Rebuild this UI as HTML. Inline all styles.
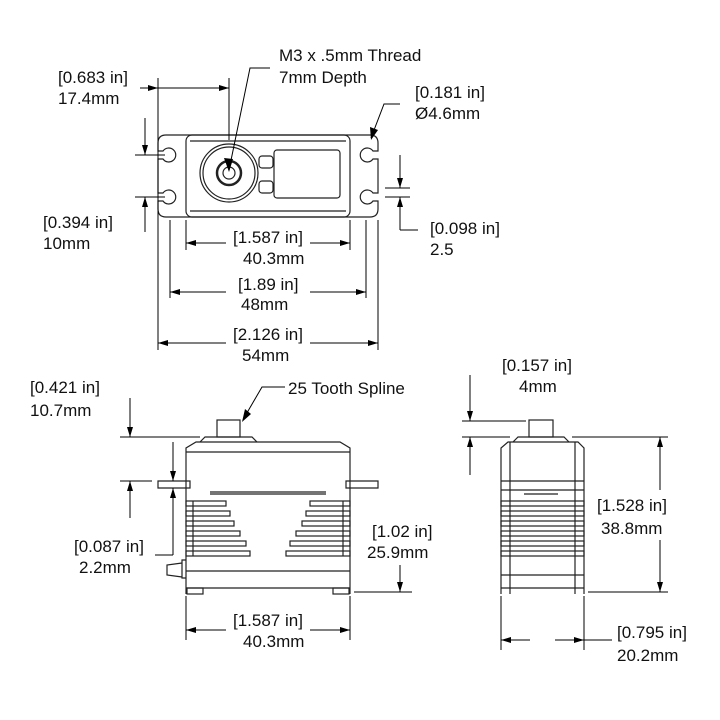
<!DOCTYPE html>
<html><head><style>body{margin:0;background:#fff}svg{display:block}text{font-family:"Liberation Sans",sans-serif;font-size:17px;fill:#111}</style></head><body>
<svg width="720" height="720" viewBox="0 0 720 720" xmlns="http://www.w3.org/2000/svg">
<defs><marker id="a" viewBox="0 0 10 6" refX="10" refY="3" markerWidth="10" markerHeight="6" orient="auto-start-reverse" markerUnits="userSpaceOnUse"><path d="M0,0L10,3L0,6z" fill="#000"/></marker></defs>
<g fill="none" stroke="#222" stroke-width="1.2">
<!-- top view -->
<path d="M166,135H370Q378,135 378,143V151H373A7,7 0 1 0 373,159H378V193H373A7,7 0 1 0 373,201H378V209Q378,217 370,217H166Q158,217 158,209V201H163A7,7 0 1 0 163,193H158V159H163A7,7 0 1 0 163,151H158V143Q158,135 166,135Z"/>
<rect x="186" y="135" width="164" height="82" rx="6"/>
<line x1="190" y1="141" x2="346" y2="141"/><line x1="190" y1="211" x2="346" y2="211"/>
<circle cx="229" cy="173" r="29"/><circle cx="229" cy="173" r="26"/>
<circle cx="229" cy="173" r="12" stroke-width="2.5"/><circle cx="229" cy="173" r="6"/>
<rect x="259" y="156" width="14" height="12" rx="3"/><rect x="259" y="181" width="14" height="12" rx="3"/>
<rect x="274" y="150" width="66" height="48" rx="3"/>
<!-- side view -->
<rect x="217" y="420" width="23" height="17"/>
<path d="M200,442L205,437H252L257,442"/>
<path d="M186,488V448L196,442H340L350,448V488"/>
<line x1="186" y1="452" x2="350" y2="452"/>
<path d="M158,481H190V488H158Z"/><path d="M346,481H378V488H346Z"/>
<line x1="186" y1="488" x2="186" y2="594"/><line x1="350" y1="488" x2="350" y2="594"/>
<line x1="210" y1="492" x2="326" y2="492"/><line x1="210" y1="494" x2="326" y2="494"/>
<g>
<rect x="186" y="501" width="40" height="5"/><rect x="186" y="511" width="44" height="5"/><rect x="186" y="521" width="48" height="5"/><rect x="186" y="531" width="54" height="5"/><rect x="186" y="541" width="60" height="5"/><rect x="186" y="551" width="64" height="5"/>
<rect x="310" y="501" width="40" height="5"/><rect x="306" y="511" width="44" height="5"/><rect x="302" y="521" width="48" height="5"/><rect x="296" y="531" width="54" height="5"/><rect x="290" y="541" width="60" height="5"/><rect x="286" y="551" width="64" height="5"/>
<line x1="193" y1="501" x2="193" y2="556"/><line x1="343" y1="501" x2="343" y2="556"/>
</g>
<line x1="186" y1="571" x2="350" y2="571"/><line x1="186" y1="588" x2="350" y2="588"/>
<rect x="187" y="588" width="16" height="6"/><rect x="333" y="588" width="16" height="6"/>
<path d="M186,560H182V578H186M182,563L167,565V575L182,577"/>
<!-- right view -->
<rect x="529" y="420" width="24" height="17"/>
<path d="M513,442L518,437H564L569,442"/>
<path d="M501,594V448L508,442H578L584,448V594"/>
<line x1="510" y1="442" x2="510" y2="594"/><line x1="575" y1="442" x2="575" y2="594"/>
<line x1="501" y1="481" x2="584" y2="481"/><line x1="501" y1="490" x2="584" y2="490"/>
<line x1="524" y1="494" x2="558" y2="494"/>
<g><rect x="501" y="501" width="83" height="5"/><rect x="501" y="511" width="83" height="5"/><rect x="501" y="521" width="83" height="5"/><rect x="501" y="531" width="83" height="5"/><rect x="501" y="541" width="83" height="5"/><rect x="501" y="551" width="83" height="5"/></g>
<line x1="501" y1="575" x2="584" y2="575"/><line x1="501" y1="588" x2="584" y2="588"/>
</g>
<g stroke="#000" stroke-width="1" fill="none">
<line x1="158" y1="78" x2="158" y2="350"/><line x1="229" y1="78" x2="229" y2="140"/>
<line x1="186" y1="220" x2="186" y2="250"/><line x1="350" y1="220" x2="350" y2="250"/>
<line x1="170" y1="220" x2="170" y2="298"/><line x1="366" y1="220" x2="366" y2="298"/>
<line x1="378" y1="220" x2="378" y2="350"/>
<line x1="140" y1="88" x2="158" y2="88" marker-end="url(#a)"/><line x1="229" y1="88" x2="158" y2="88"/><line x1="200" y1="88" x2="229" y2="88" marker-end="url(#a)"/>
<line x1="135" y1="155" x2="165" y2="155"/><line x1="135" y1="197" x2="165" y2="197"/>
<line x1="145" y1="118" x2="145" y2="155" marker-end="url(#a)"/><line x1="145" y1="232" x2="145" y2="197" marker-end="url(#a)"/>
<line x1="385" y1="188" x2="410" y2="188"/><line x1="385" y1="197" x2="410" y2="197"/>
<line x1="400" y1="155" x2="400" y2="188" marker-end="url(#a)"/><line x1="400" y1="230" x2="400" y2="197" marker-end="url(#a)"/><line x1="400" y1="230" x2="418" y2="230"/>
<line x1="226" y1="243" x2="186" y2="243" marker-end="url(#a)"/><line x1="310" y1="243" x2="350" y2="243" marker-end="url(#a)"/>
<line x1="226" y1="292" x2="170" y2="292" marker-end="url(#a)"/><line x1="310" y1="292" x2="366" y2="292" marker-end="url(#a)"/>
<line x1="226" y1="343" x2="158" y2="343" marker-end="url(#a)"/><line x1="310" y1="343" x2="378" y2="343" marker-end="url(#a)"/>
<polyline points="270,68 250,68 229,170" /><path d="M229,172l-5,-14l9,1z" fill="#000" stroke="none"/>
<polyline points="400,104 384,104 371,138"/><path d="M371,140l-1,-13l8,3z" fill="#000" stroke="none"/>
<line x1="120" y1="437" x2="200" y2="437"/>
<line x1="130" y1="398" x2="130" y2="437" marker-end="url(#a)"/>
<line x1="120" y1="481" x2="152" y2="481"/>
<line x1="130" y1="518" x2="130" y2="481" marker-end="url(#a)"/>
<line x1="173" y1="442" x2="173" y2="481" marker-end="url(#a)"/>
<line x1="173" y1="555" x2="173" y2="488" marker-end="url(#a)"/><line x1="155" y1="555" x2="173" y2="555"/>
<line x1="354" y1="592" x2="412" y2="592"/>
<line x1="400" y1="565" x2="400" y2="592" marker-end="url(#a)"/>
<polyline points="285,387 262,387 244,418"/><path d="M242,422l3,-13l6,5z" fill="#000" stroke="none"/>
<line x1="186" y1="596" x2="186" y2="640"/><line x1="350" y1="596" x2="350" y2="640"/>
<line x1="226" y1="630" x2="186" y2="630" marker-end="url(#a)"/><line x1="310" y1="630" x2="350" y2="630" marker-end="url(#a)"/>
<line x1="462" y1="421" x2="526" y2="421"/><line x1="462" y1="437" x2="510" y2="437"/><line x1="572" y1="437" x2="668" y2="437"/>
<line x1="470" y1="375" x2="470" y2="421" marker-end="url(#a)"/><line x1="470" y1="475" x2="470" y2="437" marker-end="url(#a)"/>
<line x1="588" y1="592" x2="668" y2="592"/>
<line x1="660" y1="490" x2="660" y2="437" marker-end="url(#a)"/><line x1="660" y1="540" x2="660" y2="592" marker-end="url(#a)"/>
<line x1="501" y1="596" x2="501" y2="650"/><line x1="584" y1="596" x2="584" y2="650"/>
<line x1="530" y1="640" x2="501" y2="640" marker-end="url(#a)"/><line x1="555" y1="640" x2="584" y2="640" marker-end="url(#a)"/><line x1="584" y1="640" x2="612" y2="640"/>
</g>
<text x="279" y="61">M3 x .5mm Thread</text><text x="279" y="83">7mm Depth</text>
<text x="58" y="83">[0.683 in]</text><text x="58" y="104">17.4mm</text>
<text x="415" y="98">[0.181 in]</text><text x="415" y="119">Ø4.6mm</text>
<text x="43" y="228">[0.394 in]</text><text x="43" y="249">10mm</text>
<text x="430" y="234">[0.098 in]</text><text x="430" y="255">2.5</text>
<text x="233" y="243">[1.587 in]</text><text x="243" y="264">40.3mm</text>
<text x="238" y="290">[1.89 in]</text><text x="241" y="310">48mm</text>
<text x="233" y="340">[2.126 in]</text><text x="242" y="361">54mm</text>
<text x="30" y="393">[0.421 in]</text><text x="30" y="416">10.7mm</text>
<text x="288" y="394">25 Tooth Spline</text>
<text x="74" y="552">[0.087 in]</text><text x="79" y="573">2.2mm</text>
<text x="372" y="537">[1.02 in]</text><text x="367" y="558">25.9mm</text>
<text x="233" y="626">[1.587 in]</text><text x="243" y="647">40.3mm</text>
<text x="502" y="371">[0.157 in]</text><text x="519" y="392">4mm</text>
<text x="597" y="511">[1.528 in]</text><text x="601" y="534">38.8mm</text>
<text x="617" y="638">[0.795 in]</text><text x="617" y="661">20.2mm</text>
</svg>
</body></html>
